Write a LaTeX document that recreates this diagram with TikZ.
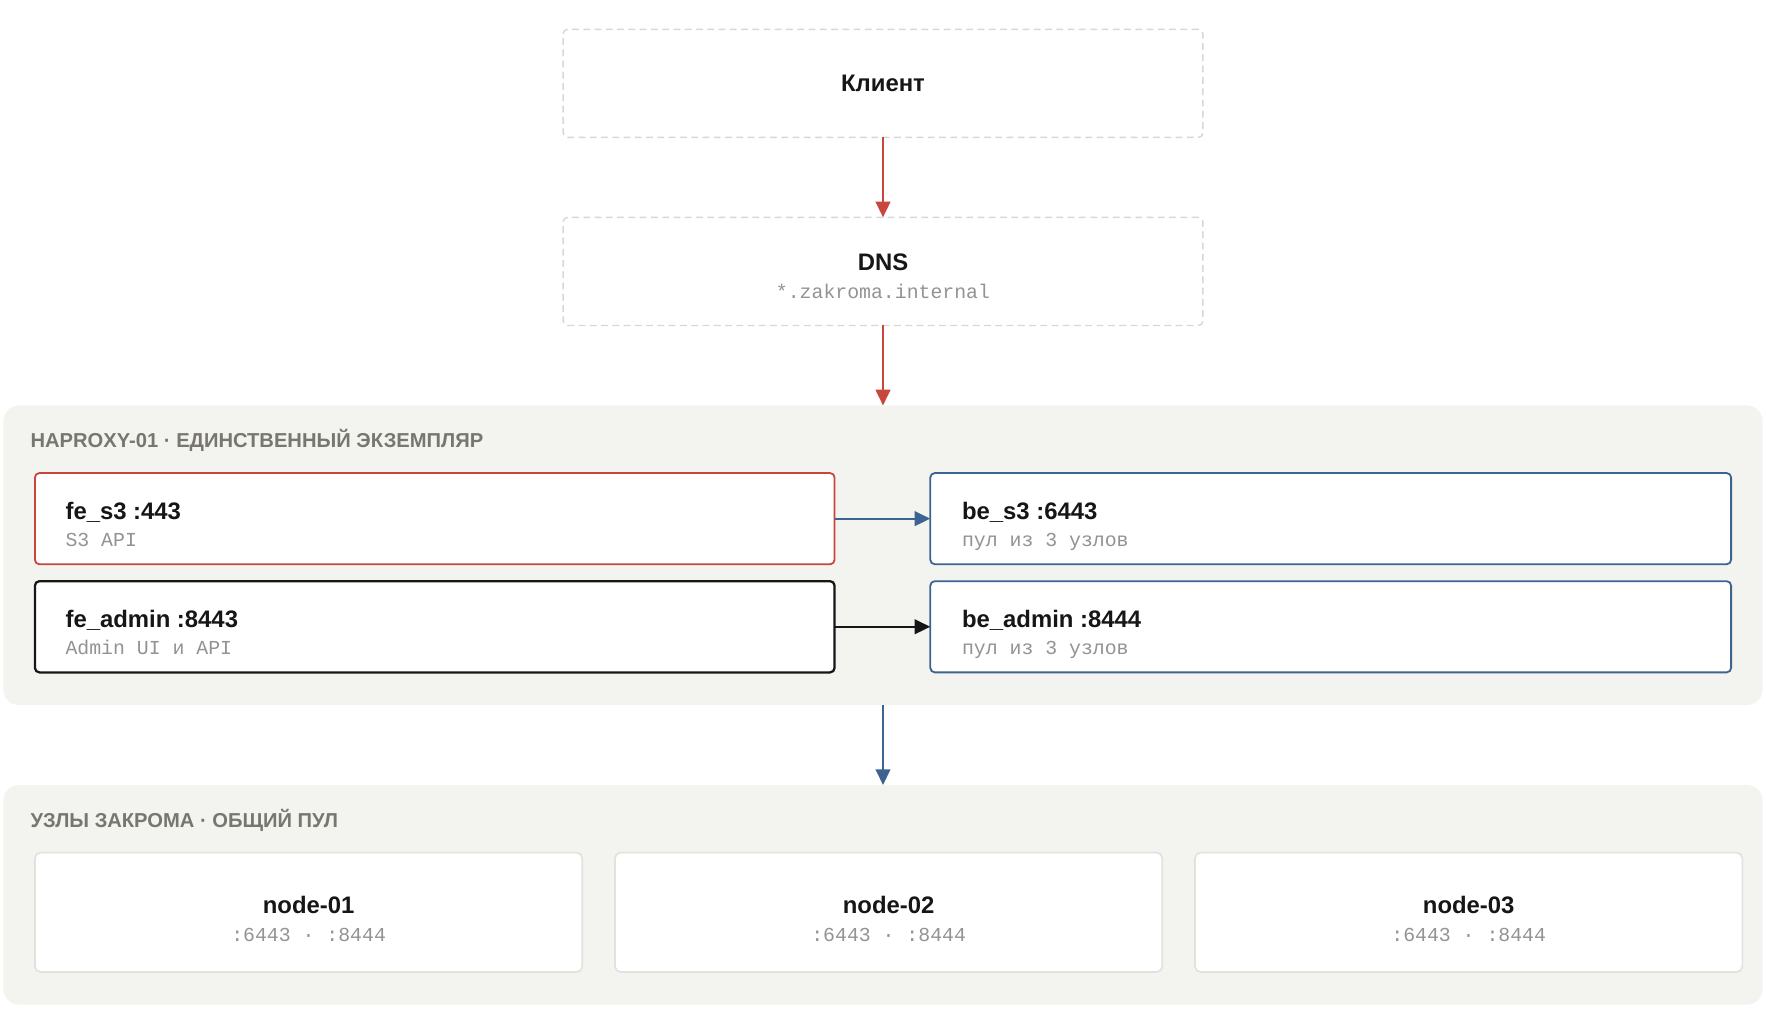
\documentclass[tikz,border=0pt]{standalone}
\usepackage{fontspec}
\setmainfont{Liberation Sans}
\newfontfamily\monof{Liberation Mono}
\usetikzlibrary{arrows.meta}
\definecolor{redc}{HTML}{C9463D}
\definecolor{bluec}{HTML}{3D6491}
\definecolor{blackc}{HTML}{161616}
\definecolor{subgray}{HTML}{939393}
\definecolor{grptitle}{HTML}{77776F}
\definecolor{grpfill}{HTML}{F3F3EF}
\definecolor{dashgray}{HTML}{D8D8D3}
\definecolor{nodegray}{HTML}{E2E2DD}
\tikzset{
  box/.style={rectangle, inner sep=0pt, outer sep=0pt, fill=white},
  dashbox/.style={box, draw=dashgray, dash pattern=on 6pt off 4pt, line width=1.3pt, rounded corners=4pt, minimum width=568pt, minimum height=96pt},
  grpbox/.style={box, fill=grpfill, rounded corners=14pt, minimum width=1562pt},
  febox/.style={box, line width=1.6pt, rounded corners=4pt, minimum width=710pt, minimum height=81pt},
  bebox/.style={box, draw=bluec, line width=1.6pt, rounded corners=4pt, minimum width=711pt, minimum height=81pt},
  poolbox/.style={box, draw=nodegray, line width=1.5pt, rounded corners=5pt, minimum width=486pt, minimum height=106pt},
  ttl/.style={inner sep=0pt, text=blackc, font=\fontsize{21.2}{25}\selectfont\bfseries},
  sub/.style={inner sep=0pt, text=subgray, font=\fontsize{17.6}{21}\selectfont\monof},
  gttl/.style={inner sep=0pt, text=grptitle, font=\fontsize{17.9}{21}\selectfont\bfseries, anchor=base west},
  arr/.style={line width=2pt, -{Triangle[length=14pt,width=13pt]}},
}
\begin{document}
\begin{tikzpicture}[x=1pt,y=-1pt]
\useasboundingbox[fill=white] (0,0) rectangle (1568,902);
% top boxes
\node[dashbox] (client) at (784,74) {};
\node[ttl, anchor=base] (clientT) at (784,81) {Клиент};
\node[dashbox] (dns) at (784,241) {};
\node[ttl, anchor=base] (dnsT) at (784,240.5) {DNS};
\node[sub, anchor=base] (dnsS) at (784,265) {*.zakroma.internal};
% group 1
\node[grpbox, minimum height=266pt] (g1) at (784,493) {};
\node[gttl] (g1T) at (27,397.5) {HAPROXY-01 · ЕДИНСТВЕННЫЙ ЭКЗЕМПЛЯР};
\node[febox, draw=redc] (fes3) at (386,460.5) {};
\node[ttl, anchor=base west] (fes3T) at (58,461) {fe\_s3 :443};
\node[sub, anchor=base west] (fes3S) at (58,485.5) {S3 API};
\node[febox, draw=blackc, line width=2pt] (fead) at (386,556.5) {};
\node[ttl, anchor=base west] (feadT) at (58,557) {fe\_admin :8443};
\node[sub, anchor=base west] (feadS) at (58,581.5) {Admin UI и API};
\node[bebox] (bes3) at (1181.5,460.5) {};
\node[ttl, anchor=base west] (bes3T) at (854,461) {be\_s3 :6443};
\node[sub, anchor=base west] (bes3S) at (854,485.5) {пул из 3 узлов};
\node[bebox] (bead) at (1181.5,556.5) {};
\node[ttl, anchor=base west] (beadT) at (854,557) {be\_admin :8444};
\node[sub, anchor=base west] (beadS) at (854,581.5) {пул из 3 узлов};
% group 2
\node[grpbox, minimum height=195pt] (g2) at (784,794.5) {};
\node[gttl] (g2T) at (27,734.5) {УЗЛЫ ЗАКРОМА · ОБЩИЙ ПУЛ};
\node[poolbox] (n1) at (274,810) {};
\node[ttl, anchor=base] (n1T) at (274,811) {node-01};
\node[sub, anchor=base] (n1S) at (274,835.5) {:6443 · :8444};
\node[poolbox] (n2) at (789,810) {};
\node[ttl, anchor=base] (n2T) at (789,811) {node-02};
\node[sub, anchor=base] (n2S) at (789,835.5) {:6443 · :8444};
\node[poolbox] (n3) at (1304,810) {};
\node[ttl, anchor=base] (n3T) at (1304,811) {node-03};
\node[sub, anchor=base] (n3S) at (1304,835.5) {:6443 · :8444};
% connectors
\draw[arr, draw=redc, fill=redc] (client.south) -- (dns.north);
\draw[arr, draw=redc, fill=redc] (dns.south) -- (g1.north);
\draw[arr, draw=bluec, fill=bluec] (g1.south) -- (g2.north);
\draw[arr, draw=bluec, fill=bluec] (fes3.east) -- (bes3.west);
\draw[arr, draw=blackc, fill=blackc] (fead.east) -- (bead.west);
\end{tikzpicture}
\end{document}
